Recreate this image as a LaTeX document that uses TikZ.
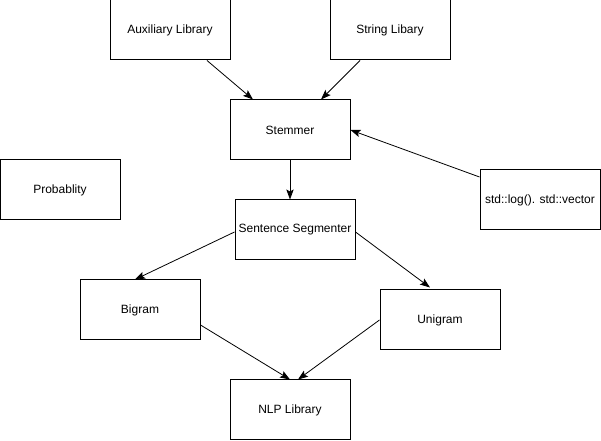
\documentclass[tikz,border=0pt]{standalone}
\usepackage{fontspec}
\setmainfont{Liberation Sans}
\usetikzlibrary{arrows.meta,calc}

\tikzset{
  block/.style={draw, line width=0.75pt, minimum width=90pt, minimum height=45pt, inner sep=0pt, font=\fontsize{9}{11}\selectfont},
  arr/.style={-{Stealth[length=7.5pt,width=5.5pt,inset=1.5pt]}, line width=0.6pt}
}

\begin{document}
\begin{tikzpicture}[x=0.75pt, y=-0.75pt]
\useasboundingbox (0,0) rectangle (601,441);
\node[block] (aux) at (170,30) {Auxiliary Library};
\node[block] (str) at (390,30) {String Libary};
\node[block] (stem) at (290,130) {Stemmer};
\node[block] (prob) at (60,190) {Probablity};
\node[block] (std) at (540,200) {std::log(). std::vector};
\node[block] (seg) at (295,230) {Sentence Segmenter};
\node[block] (bigram) at (140,310) {Bigram};
\node[block] (unigram) at (440,320) {Unigram};
\node[block] (nlp) at (290,410) {NLP Library};
\draw[arr] ($(aux.south)+(37,0)$) -- ($(stem.north)+(-37,0)$);
\draw[arr] ($(str.south)+(-30,0)$) -- ($(stem.north)+(31,0)$);
\draw[arr] ($(std.west)+(0,-23)$) -- (stem.east);
\draw[arr] (stem.south) -- (stem.south |- seg.north);
\draw[arr] ($(seg.west)+(0,2)$) -- ($(bigram.north)+(-5,0)$);
\draw[arr] ($(seg.east)+(0,2)$) -- ($(unigram.north)+(-10,-2)$);
\draw[arr] ($(bigram.east)+(0,15)$) -- (nlp.north);
\draw[arr] (unigram.west) -- ($(nlp.north)+(8,0)$);
\end{tikzpicture}
\end{document}
